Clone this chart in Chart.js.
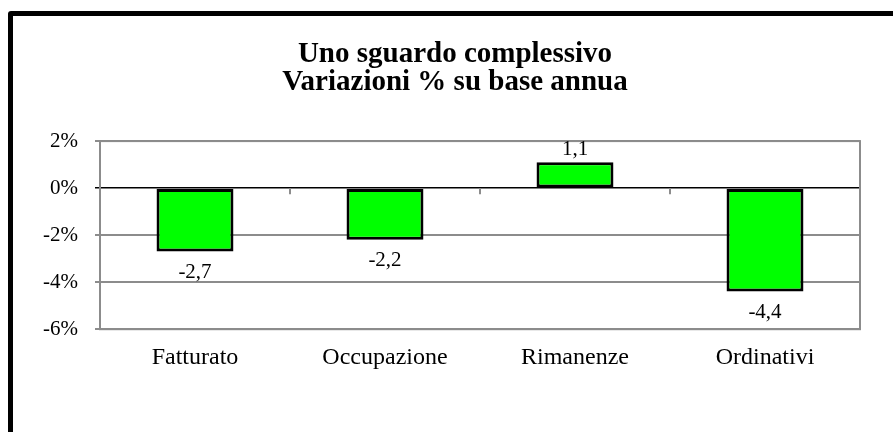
<!DOCTYPE html>
<html>
<head>
<meta charset="utf-8">
<script src="https://cdn.jsdelivr.net/npm/chart.js@4"></script>
<style>
    html, body { margin: 0; padding: 0; background: #fff; overflow: hidden; }
    #frame {
        position: absolute; left: 8px; top: 11px;
        width: 920px; height: 460px;
        border: 5px solid #000; border-radius: 3px;
    }
    #wrap { position: absolute; left: 0; top: 0; width: 893px; height: 432px; }
</style>
</head>
<body>
<div id="frame"></div>
<div id="wrap"><canvas id="chart"></canvas></div>
<script>
const titleLines = ['Uno sguardo complessivo', 'Variazioni % su base annua'];
const categories = ['Fatturato', 'Occupazione', 'Rimanenze', 'Ordinativi'];
const values = [-2.7, -2.2, 1.1, -4.4];
const yMin = -6;
const yMax = 2;
const yStep = 2;

const serif = '"Liberation Serif", "Times New Roman", serif';

// plot frame + small category ticks on the zero line
const framePlugin = {
    id: 'frame',
    afterDatasetsDraw(chart) {
        const { ctx, chartArea: a, scales: { x, y } } = chart;
        const zero = y.getPixelForValue(0);
        const half = (x.getPixelForValue(1) - x.getPixelForValue(0)) / 2;
        ctx.save();
        ctx.strokeStyle = '#8c8c8c';
        ctx.lineWidth = 2;
        for (let i = 0; i <= categories.length; i++) {
            const px = Math.round(x.getPixelForValue(i) - half);
            ctx.beginPath();
            ctx.moveTo(px, zero);
            ctx.lineTo(px, zero + 6);
            ctx.stroke();
        }
        ctx.strokeRect(a.left, a.top, a.right - a.left, a.bottom - a.top);
        ctx.restore();
    }
};

// value labels, italian decimal comma
const valueLabels = {
    id: 'valueLabels',
    afterDatasetsDraw(chart) {
        const { ctx } = chart;
        const meta = chart.getDatasetMeta(0);
        ctx.save();
        ctx.font = '21px ' + serif;
        ctx.fillStyle = '#000';
        ctx.textAlign = 'center';
        ctx.textBaseline = 'alphabetic';
        meta.data.forEach((bar, i) => {
            const v = values[i];
            const txt = v.toFixed(1).replace('.', ',');
            const ty = v >= 0 ? bar.y - 7 : bar.y + 26;
            ctx.fillText(txt, bar.x, ty);
        });
        ctx.restore();
    }
};

new Chart(document.getElementById('chart'), {
    type: 'bar',
    data: {
        labels: categories,
        datasets: [{
            data: values,
            backgroundColor: '#00ff00',
            borderColor: '#000',
            borderWidth: 3,
            borderSkipped: false,
            barPercentage: 0.405,
            categoryPercentage: 1
        }]
    },
    options: {
        responsive: true,
        maintainAspectRatio: false,
        animation: false,
        layout: { padding: { left: 17, right: 0, top: 0, bottom: 46 } },
        scales: {
            x: {
                grid: { display: false, drawTicks: false },
                border: { display: false },
                ticks: { color: '#000', padding: 14, font: { family: serif, size: 24 } }
            },
            y: {
                min: yMin,
                max: yMax,
                afterFit(scale) { scale.width = 83; },
                grid: {
                    color: ctx => ctx.tick && ctx.tick.value === 0 ? '#000' : '#8c8c8c',
                    lineWidth: ctx => ctx.tick && ctx.tick.value === 0 ? 1.5 : 2,
                    tickLength: 5
                },
                border: { display: false },
                ticks: {
                    stepSize: yStep,
                    color: '#000',
                    padding: 17,
                    font: { family: serif, size: 21 },
                    callback: v => v + '%'
                }
            },
            // empty right axis, only reserves the space right of the plot
            yRight: {
                position: 'right',
                min: yMin,
                max: yMax,
                afterFit(scale) { scale.width = 33; },
                grid: { display: false, drawTicks: false },
                border: { display: false },
                ticks: { display: false }
            }
        },
        plugins: {
            legend: { display: false },
            tooltip: { enabled: false },
            title: {
                display: true,
                text: titleLines,
                color: '#000',
                font: { family: serif, size: 29, weight: 'bold', lineHeight: 0.95 },
                padding: { top: 41, bottom: 45 }
            }
        }
    },
    plugins: [framePlugin, valueLabels]
});
</script>
</body>
</html>
